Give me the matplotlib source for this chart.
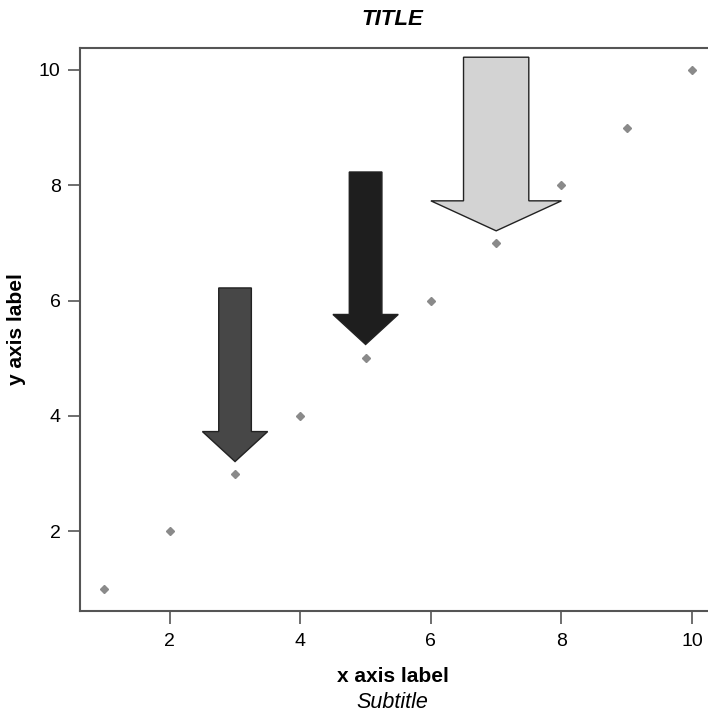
import numpy as np
import matplotlib.pyplot as plt

plt.rcParams['font.family'] = ['Liberation Sans', 'DejaVu Sans']

# scatter points
x_pts = [1, 2, 3, 4, 5, 6, 7, 8, 9, 10]
y_pts = [1, 2, 3, 4, 5, 6, 7, 8, 9, 10]

# arrows: x position, top of shaft, tip
arrow_x = [3, 5, 7]
arrow_top = [6.22, 8.23, 10.22]
arrow_tip = [3.21, 5.24, 7.21]
arrow_scale = [1.0, 1.0, 2.0]
arrow_colors = ['#474747', '#1e1e1e', '#d3d3d3']

fig = plt.figure(figsize=(7.08, 7.15), dpi=100)
ax = fig.add_axes([0.113, 0.1455, 0.887, 0.7874])

ax.plot(x_pts, y_pts, linestyle='none', marker='D', markersize=4.5,
        color='#8a8a8a', zorder=3)

for xa, yt, yb, sc, c in zip(arrow_x, arrow_top, arrow_tip, arrow_scale, arrow_colors):
    ax.arrow(xa, yt, 0, yb - yt, width=0.5 * sc, head_width=1.0 * sc,
             head_length=0.52, length_includes_head=True,
             facecolor=c, edgecolor='#222222', linewidth=1.0, zorder=4)

ax.set_xlim(0.625, 10.245)
ax.set_ylim(0.62, 10.38)
ax.set_xticks([2, 4, 6, 8, 10])
ax.set_yticks([2, 4, 6, 8, 10])
ax.tick_params(direction='out', length=9, width=1.2, labelsize=14, pad=5,
               colors='#555555', labelcolor='black')
ax.tick_params(axis='x', pad=7)
ax.spines['right'].set_visible(False)
for s in ['left', 'bottom', 'top']:
    ax.spines[s].set_color('#555555')
    ax.spines[s].set_linewidth(1.5)

fig.text(0.554, 0.9734, 'TITLE', fontsize=16, fontweight='bold',
         fontstyle='italic', ha='center', va='center')
fig.text(0.555, 0.0545, 'x axis label', fontsize=15, fontweight='bold',
         ha='center', va='center')
fig.text(0.554, 0.018, 'Subtitle', fontsize=15.5, fontstyle='italic',
         ha='center', va='center')
fig.text(0.024, 0.54, 'y axis label', fontsize=15, fontweight='bold',
         rotation=90, ha='center', va='center')

fig.savefig('out.png', dpi=100)
